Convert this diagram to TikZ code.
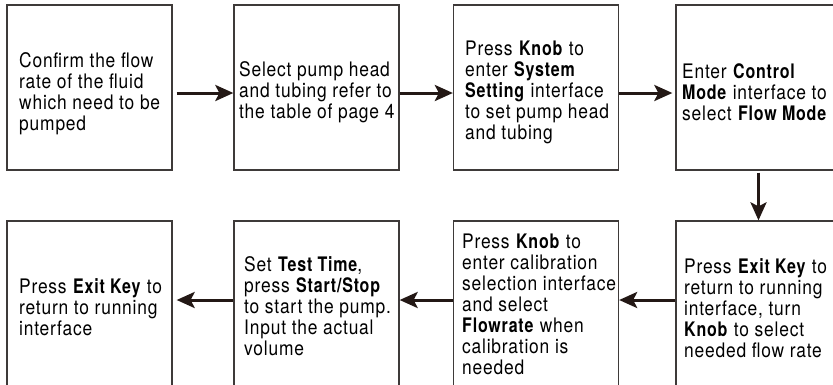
\documentclass[tikz,border=0pt]{standalone}
\usepackage{fontspec}
\setmainfont{TeX Gyre Heros}[FakeStretch=0.87, LetterSpace=4, BoldFeatures={FakeStretch=0.8}]
\usetikzlibrary{arrows.meta}
\definecolor{frame}{HTML}{3E3A39}
\definecolor{ink}{HTML}{231815}
\begin{document}
\begin{tikzpicture}[x=1pt,y=-1pt,
  box/.style={draw=frame, line width=1.3pt, minimum width=165pt, minimum height=165pt, inner sep=0pt},
  txt/.style={anchor=west, align=left, inner sep=0pt, font=\fontsize{20}{21}\selectfont, text=black},
  arr/.style={draw=ink, line width=3pt, -{Stealth[length=18pt,width=16pt,inset=4pt]}}]
\useasboundingbox (0,0) rectangle (833,384);
% top row
\node[box] (b1) at (89.5,87.5) {};
\node[box] (b2) at (316.5,87.5) {};
\node[box] (b3) at (536,87.5) {};
\node[box] (b4) at (758.5,87.5) {};
% bottom row
\node[box] (b5) at (758.5,303.5) {};
\node[box] (b6) at (536,303.5) {};
\node[box] (b7) at (316.5,303.5) {};
\node[box] (b8) at (89.5,303.5) {};
% texts
\node[txt] (t1) at (19,94) {Confirm the flow\\rate of the fluid\\which need to be\\pumped};
\node[txt] (t2) at (239,92) {Select pump head\\and tubing refer to\\the table of page 4};
\node[txt] (t3) at (465,92) {Press \textbf{Knob} to\\enter \textbf{System}\\\textbf{Setting} interface\\to set pump head\\and tubing};
\node[txt] (t4) at (682,92) {Enter \textbf{Control}\\\textbf{Mode} interface to\\select \textbf{Flow Mode}};
\node[txt] (t5) at (684,308) {Press \textbf{Exit Key} to\\return to running\\interface, turn\\\textbf{Knob} to select\\needed flow rate};
\node[txt] (t6) at (462,304) {Press \textbf{Knob} to\\enter calibration\\selection interface\\and select\\\textbf{Flowrate} when\\calibration is\\needed};
\node[txt] (t7) at (244,306) {Set \textbf{Test Time},\\press \textbf{Start/Stop}\\to start the pump.\\Input the actual\\volume};
\node[txt] (t8) at (19,307) {Press \textbf{Exit Key} to\\return to running\\interface};
% arrows
\draw[arr] ([xshift=4pt,yshift=-5.5pt]b1.east) -- ([yshift=-5.5pt]b2.west);
\draw[arr] ([yshift=-5.5pt]b2.east) -- ([yshift=-5.5pt]b3.west);
\draw[arr] ([yshift=-5.5pt]b3.east) -- ([xshift=-3pt,yshift=-5.5pt]b4.west);
\draw[arr] ([yshift=-2pt]b4.south) -- (b5.north);
\draw[arr] ([yshift=3.5pt]b5.west) -- ([yshift=3.5pt]b6.east);
\draw[arr] ([yshift=3.5pt]b6.west) -- ([yshift=3.5pt]b7.east);
\draw[arr] ([yshift=3.5pt]b7.west) -- ([xshift=4pt,yshift=3.5pt]b8.east);
\end{tikzpicture}
\end{document}
